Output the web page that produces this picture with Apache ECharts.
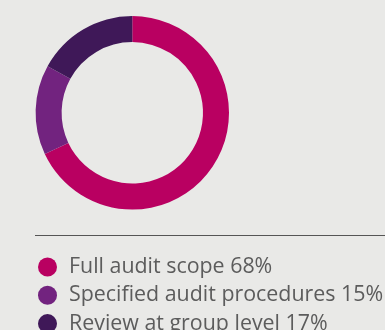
<!DOCTYPE html>
<html>
<head>
<meta charset="utf-8">
<script src="https://cdn.jsdelivr.net/npm/echarts@6/dist/echarts.min.js"></script>
<style>
  html, body { margin: 0; padding: 0; background: #e9e9e7; }
  #chart { width: 385px; height: 330px; }
</style>
</head>
<body>
<div id="chart"></div>
<script>
// Audit coverage split, in percent
const categories = ['Full audit scope', 'Specified audit procedures', 'Review at group level'];
const shares = [68, 15, 17];
const colors = ['#b90061', '#72237f', '#3f1858'];

const chart = echarts.init(document.getElementById('chart'));
const pieData = categories.map((name, i) => ({
  name: name,
  value: shares[i],
  itemStyle: { color: colors[i] }
}));
const shareByName = {};
categories.forEach((n, i) => { shareByName[n] = shares[i]; });

chart.setOption({
  backgroundColor: '#e9e9e7',
  animation: false,
  legend: {
    orient: 'vertical',
    left: 38,
    top: 256.5,
    height: 200,
    icon: 'circle',
    itemWidth: 19,
    itemHeight: 19,
    itemGap: 7.3,
    padding: 0,
    selectedMode: false,
    formatter: name => name + ' ' + shareByName[name] + '%',
    textStyle: {
      fontFamily: 'Open Sans',
      fontSize: 21.4,
      color: '#5c5c5c',
      padding: [0, 0, 0, 7]
    }
  },
  graphic: [{
    type: 'line',
    shape: { x1: 35, y1: 235.5, x2: 385, y2: 235.5 },
    style: { stroke: '#555555', lineWidth: 1.2 }
  }],
  series: [{
    type: 'pie',
    center: [132.3, 112.8],
    radius: [70.7, 96.7],
    startAngle: 90,
    clockwise: true,
    label: { show: false },
    labelLine: { show: false },
    emphasis: { disabled: true },
    data: pieData
  }]
});
</script>
</body>
</html>
